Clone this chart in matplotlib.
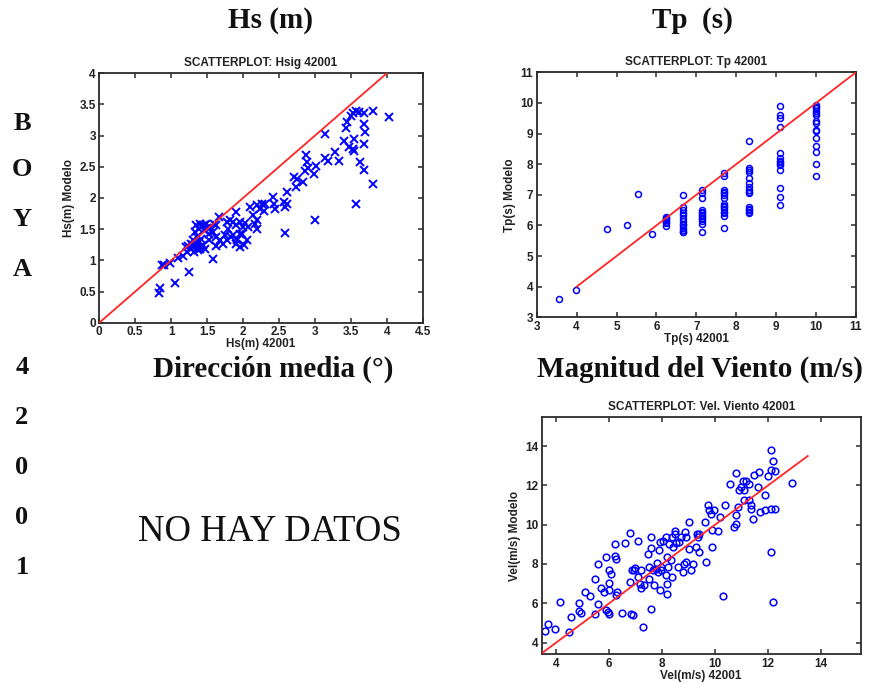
import matplotlib
matplotlib.use("Agg")
import matplotlib.pyplot as plt
import numpy as np

# ---------------- data ----------------
hs_obs = [0.83, 0.84, 0.87, 0.90, 0.98, 1.05, 1.10, 1.17, 1.25, 1.22,
          3.81, 4.03, 3.69, 3.61, 3.57, 3.53, 3.50, 3.45, 3.43, 3.69,
          3.70, 3.40, 3.47, 3.54, 3.53, 3.55, 3.68, 3.63, 3.69, 3.81,
          3.57, 3.14, 3.14, 3.18, 3.28, 3.34, 3.00, 2.88, 2.89, 2.90,
          2.86, 3.02, 2.99, 2.71, 2.75, 2.74, 2.84, 2.61, 2.42, 2.43,
          2.44, 2.57, 2.59, 2.61, 2.59, 2.26, 2.30, 2.23, 2.19, 2.29,
          2.10, 2.14, 2.20, 2.16, 2.19, 2.07, 2.05, 2.02, 1.96, 1.90,
          2.03, 2.00, 1.96, 1.90, 1.86, 1.90, 1.82, 1.77, 1.79, 1.75,
          1.86, 1.77, 1.72, 1.67, 1.63, 1.58, 1.63, 1.68, 1.63, 1.58,
          1.49, 1.45, 1.40, 1.35, 1.33, 1.52, 1.52, 1.47, 1.42, 1.38,
          1.33, 1.28, 1.24, 1.31, 1.39, 1.36, 1.42, 1.27, 1.21, 1.32,
          1.46, 1.39, 1.54, 1.60, 1.96, 1.99, 1.91, 1.83, 1.30, 1.36,
          1.44, 1.40, 1.34, 1.50, 1.43]
hs_mod = [0.47, 0.55, 0.92, 0.93, 0.96, 0.64, 1.03, 1.07, 0.82, 1.13,
          3.40, 3.30, 3.37, 3.38, 3.40, 3.37, 3.32, 3.22, 3.13, 3.19,
          3.06, 2.91, 2.82, 2.76, 2.79, 2.95, 2.86, 2.58, 2.45, 2.22,
          1.91, 3.02, 2.64, 2.60, 2.74, 2.60, 1.65, 2.69, 2.58, 2.48,
          2.43, 2.52, 2.38, 2.34, 2.30, 2.17, 2.25, 2.09, 2.01, 1.91,
          1.83, 1.93, 1.86, 1.91, 1.44, 1.91, 1.90, 1.83, 1.88, 1.79,
          1.86, 1.73, 1.65, 1.58, 1.51, 1.54, 1.33, 1.25, 1.22, 1.27,
          1.60, 1.54, 1.62, 1.57, 1.62, 1.78, 1.65, 1.62, 1.51, 1.41,
          1.41, 1.33, 1.26, 1.70, 1.57, 1.46, 1.38, 1.33, 1.23, 1.02,
          1.59, 1.57, 1.59, 1.57, 1.46, 1.43, 1.33, 1.19, 1.22, 1.17,
          1.22, 1.19, 1.23, 1.33, 1.30, 1.38, 1.34, 1.26, 1.21, 1.14,
          1.49, 1.50, 1.54, 1.58, 1.43, 1.43, 1.33, 1.37, 1.25, 1.20,
          1.25, 1.18, 1.28, 1.52, 1.55]

tp_obs = ([3.56, 3.99, 4.75, 5.25, 5.55, 5.88]
          + [6.25] * 7 + [6.67] * 13 + [7.14] * 13 + [7.69] * 15
          + [8.33] * 15 + [9.09] * 14 + [10.0] * 15)
tp_mod = ([3.60, 3.89, 5.87, 6.01, 7.02, 5.72]
          + [5.98, 6.08, 6.12, 6.17, 6.20, 6.24, 6.27]
          + [7.00, 6.60, 6.50, 6.40, 6.35, 6.25, 6.15, 6.05, 6.00, 5.90, 5.85, 5.80, 5.77]
          + [7.15, 7.05, 6.90, 6.50, 6.45, 6.40, 6.35, 6.30, 6.25, 6.20, 6.15, 6.05, 5.80]
          + [7.70, 7.62, 7.15, 7.10, 7.05, 7.00, 6.90, 6.70, 6.65, 6.60, 6.55, 6.45, 6.40, 6.30, 5.90]
          + [8.75, 7.88, 7.82, 7.75, 7.55, 7.40, 7.25, 7.15, 7.10, 7.05, 6.60, 6.55, 6.50, 6.45, 6.42]
          + [9.90, 9.60, 9.50, 9.22, 8.38, 8.20, 8.12, 8.08, 8.02, 7.98, 7.82, 7.22, 6.92, 6.68]
          + [9.92, 9.88, 9.82, 9.75, 9.68, 9.60, 9.40, 9.35, 9.10, 9.08, 8.85, 8.60, 8.40, 8.00, 7.62])

vel_obs = [3.56, 3.69, 3.97, 4.16, 4.47, 4.57, 4.86, 4.86, 4.94, 5.07,
           5.26, 5.48, 5.48, 5.57, 5.57, 5.70, 5.82, 5.89, 5.86, 5.95,
           5.99, 5.99, 6.01, 6.08, 6.01, 6.20, 6.20, 6.26, 6.24, 6.29,
           6.49, 6.58, 6.77, 6.77, 6.81, 6.89, 6.87, 6.92, 6.99, 7.08,
           7.08, 7.17, 7.21, 7.21, 7.27, 7.33, 7.46, 7.50, 7.50, 7.58,
           7.58, 7.58, 7.65, 7.71, 7.75, 7.80, 7.84, 7.87, 7.90, 7.90,
           7.96, 7.96, 8.03, 8.13, 8.15, 8.18, 8.18, 8.18, 8.21, 8.25,
           8.34, 8.38, 8.38, 8.40, 8.47, 8.50, 8.53, 8.59, 8.65, 8.72,
           8.78, 8.84, 8.88, 8.91, 8.91, 9.01, 9.03, 9.09, 9.18, 9.28,
           9.31, 9.35, 9.41, 9.38, 9.60, 9.66, 9.72, 9.76, 9.85, 9.89,
           9.89, 9.97, 10.10, 10.19, 10.29, 10.39, 10.57, 10.71, 10.79, 10.79,
           10.79, 10.86, 10.89, 10.98, 11.04, 11.11, 11.11, 11.17, 11.27, 11.27,
           11.36, 11.36, 11.42, 11.48, 11.61, 11.67, 11.70, 11.87, 11.90, 11.99,
           12.11, 12.11, 12.11, 12.11, 12.20, 12.20, 12.28, 12.28, 12.91]
vel_mod = [4.59, 4.93, 4.71, 6.07, 4.54, 5.31, 6.03, 5.59, 5.51, 6.58,
           6.37, 7.25, 5.47, 8.02, 5.95, 6.80, 6.58, 8.36, 5.64, 5.56,
           7.03, 7.68, 6.66, 7.47, 5.47, 9.00, 8.41, 8.27, 6.41, 6.58,
           5.51, 9.08, 7.08, 9.58, 5.47, 5.42, 7.68, 7.68, 7.81, 7.34,
           9.17, 7.00, 7.68, 6.80, 4.80, 6.92, 8.53, 7.85, 7.25, 9.37,
           8.83, 5.73, 7.68, 6.92, 7.76, 8.05, 7.59, 8.73, 9.12, 6.69,
           7.68, 7.85, 9.17, 7.42, 9.37, 6.46, 7.00, 8.36, 7.85, 9.03,
           8.19, 7.34, 9.37, 8.86, 9.68, 9.51, 9.07, 7.85, 9.12, 9.37,
           7.59, 8.02, 9.63, 9.37, 8.10, 10.14, 8.78, 7.68, 8.02, 8.86,
           9.51, 9.37, 9.51, 8.61, 10.14, 8.10, 10.98, 10.73, 10.53, 9.75,
           8.86, 10.73, 9.70, 10.39, 6.36, 10.98, 12.05, 9.88, 12.63, 10.05,
           10.47, 10.90, 11.78, 11.92, 12.25, 11.75, 11.24, 12.22, 12.08, 11.27,
           10.98, 10.81, 10.31, 12.51, 11.92, 12.68, 10.64, 11.49, 10.76, 12.46,
           12.81, 13.81, 8.61, 10.81, 13.24, 6.07, 12.73, 10.81, 12.14]

hs_line = [0, 4]
tp_line = [4, 11]
vel_line = [3.4, 13.5]

hs_ticks_x = [0, 0.5, 1, 1.5, 2, 2.5, 3, 3.5, 4, 4.5]
hs_ticks_y = [0, 0.5, 1, 1.5, 2, 2.5, 3, 3.5, 4]
tp_ticks = [3, 4, 5, 6, 7, 8, 9, 10, 11]
vel_ticks = [4, 6, 8, 10, 12, 14]

row_letters = ["B", "O", "Y", "A", "4", "2", "0", "0", "1"]

# ---------------- figure ----------------
W, H = 873, 683
fig = plt.figure(figsize=(W / 100, H / 100), dpi=100)
fig.patch.set_facecolor("white")

SANS = "Liberation Sans"
SERIF = "Liberation Serif"
FRAME = "#2b2b2b"
TXT = "#222222"


def style_axes(ax, title, xlabel, ylabel):
    for s in ax.spines.values():
        s.set_linewidth(1.3)
        s.set_color(FRAME)
    ax.tick_params(direction="in", length=3.5, width=1.1, colors=FRAME,
                   top=True, right=True, labelsize=8.5, pad=2.5)
    for lab in ax.get_xticklabels() + ax.get_yticklabels():
        lab.set_fontweight("bold")
        lab.set_fontfamily(SANS)
        lab.set_color(TXT)
    ax.set_title(title, fontsize=8.5, fontweight="bold", family=SANS,
                 color=TXT, pad=5)
    ax.set_xlabel(xlabel, fontsize=8.5, fontweight="bold", family=SANS,
                  color=TXT, labelpad=0)
    ax.set_ylabel(ylabel, fontsize=8.5, fontweight="bold", family=SANS,
                  color=TXT, labelpad=3)


def px_axes(x0, y0, x1, y1):
    return fig.add_axes([x0 / W, 1 - y1 / H, (x1 - x0) / W, (y1 - y0) / H])


# Hs
ax1 = px_axes(99.3, 73.3, 422.7, 322.7)
ax1.plot(hs_line, hs_line, color="#ff2525", lw=1.3, zorder=3)
ax1.plot(hs_obs, hs_mod, linestyle="none", marker="x", ms=5.8, mew=1.4,
         color="#0000ff", zorder=2)
ax1.set_xlim(0, 4.5)
ax1.set_ylim(0, 4)
ax1.set_xticks(hs_ticks_x)
ax1.set_yticks(hs_ticks_y)
ax1.set_xticklabels([f"{v:g}" for v in hs_ticks_x])
ax1.set_yticklabels([f"{v:g}" for v in hs_ticks_y])
style_axes(ax1, "SCATTERPLOT: Hsig 42001", "Hs(m) 42001", "Hs(m) Modelo")

# Tp
ax2 = px_axes(536.7, 72.3, 856.0, 317.3)
ax2.plot(tp_line, tp_line, color="#ff2525", lw=1.3, zorder=3)
ax2.plot(tp_obs, tp_mod, linestyle="none", marker="o", ms=4.3, mew=1.1,
         mfc="none", mec="#0000ff", zorder=2)
ax2.set_xlim(3, 11)
ax2.set_ylim(3, 11)
ax2.set_xticks(tp_ticks)
ax2.set_yticks(tp_ticks)
ax2.set_xticklabels([str(v) for v in tp_ticks])
ax2.set_yticklabels([str(v) for v in tp_ticks])
style_axes(ax2, "SCATTERPLOT: Tp 42001", "Tp(s) 42001", "Tp(s) Modelo")

# Wind
ax3 = px_axes(541.7, 416.7, 860.7, 654.3)
ax3.plot(vel_line, vel_line, color="#ff2525", lw=1.3, zorder=3)
ax3.plot(vel_obs, vel_mod, linestyle="none", marker="o", ms=4.8, mew=1.1,
         mfc="none", mec="#0000ff", zorder=2)
ax3.set_xlim(3.45, 15.5)
ax3.set_ylim(3.4, 15.5)
ax3.set_xticks(vel_ticks)
ax3.set_yticks(vel_ticks)
ax3.set_xticklabels([str(v) for v in vel_ticks])
ax3.set_yticklabels([str(v) for v in vel_ticks])
style_axes(ax3, "SCATTERPLOT: Vel. Viento 42001", "Vel(m/s) 42001", "Vel(m/s) Modelo")

# headings
head_kw = dict(fontsize=21, fontweight="bold", family=SERIF, color="#111111",
               ha="center", va="center")
fig.text(271 / W, 1 - 21 / H, "Hs (m)", **head_kw)
fig.text(692 / W, 1 - 21 / H, "Tp  (s)", **head_kw)
fig.text(273 / W, 1 - 369 / H, "Dirección media (°)", **head_kw)
fig.text(700 / W, 1 - 369 / H, "Magnitud del Viento (m/s)", **head_kw)

fig.text(270 / W, 1 - 532 / H, "NO HAY DATOS", fontsize=26.5, family=SERIF,
         color="#111111", ha="center", va="center")

row_y = [123, 170, 219, 270, 367, 418, 467, 517, 567]
for ch, yy in zip(row_letters, row_y):
    fig.text(22 / W, 1 - yy / H, ch, fontsize=19, fontweight="bold",
             family=SERIF, color="#111111", ha="center", va="center")

fig.savefig("out.png", dpi=100, facecolor="white")
